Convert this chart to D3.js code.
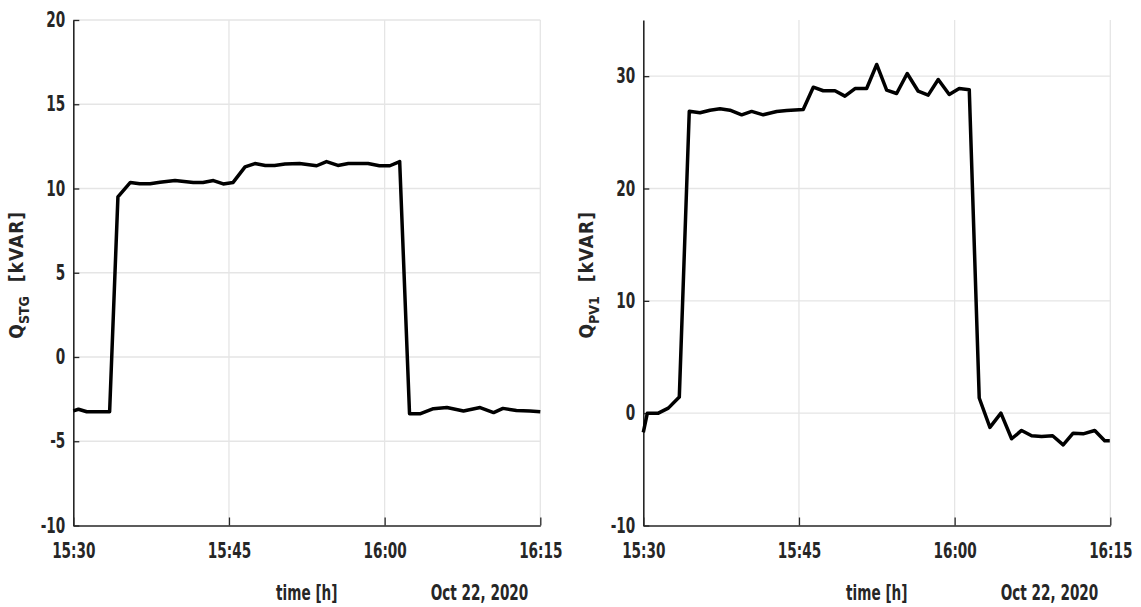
<!DOCTYPE html>
<html><head><meta charset="utf-8">
<script src="https://cdn.jsdelivr.net/npm/d3@7"></script>
<style>
html,body{margin:0;padding:0;background:#fff;}
svg text{font-family:"DejaVu Sans Condensed","Liberation Sans Narrow",sans-serif;font-weight:bold;fill:#262626;}
</style></head>
<body><svg id="chart" width="1141" height="607"></svg>
<script>
// minutes after 15:30 on Oct 22, 2020
const stgMinutes = [0,0.5,1.3,3.5,4.3,5.5,6.4,7.4,8.35,9.8,11.56,12.5,13.5,14.45,15.4,16.55,17.5,18.5,19.4,20.4,21.8,23.45,24.4,25.5,26.5,28.4,29.5,30.5,31.45,32.4,33.4,34.7,36,37.6,39.2,40.5,41.4,42.7,44,45];
const stgValues  = [-3.2,-3.1,-3.25,-3.25,9.5,10.36,10.28,10.28,10.37,10.48,10.35,10.36,10.47,10.27,10.36,11.28,11.48,11.37,11.37,11.45,11.48,11.35,11.6,11.37,11.48,11.48,11.35,11.35,11.6,-3.37,-3.37,-3.07,-3.0,-3.2,-3.0,-3.3,-3.05,-3.17,-3.2,-3.25];
const pvMinutes = [0,0.39,1.45,2.41,3.47,4.43,5.46,6.43,7.39,8.35,9.48,10.44,11.56,12.85,13.82,15.41,16.38,17.34,18.47,19.43,20.4,21.52,22.49,23.45,24.41,25.43,26.49,27.45,28.42,29.48,30.44,31.41,32.37,33.4,34.46,35.49,36.45,37.42,38.38,39.44,40.46,41.42,42.38,43.5,44.46,44.95];
const pvValues  = [-1.7,0,0,0.45,1.43,26.88,26.74,26.97,27.09,26.97,26.56,26.86,26.56,26.86,26.95,27.03,29.02,28.7,28.7,28.22,28.9,28.9,31.04,28.75,28.46,30.24,28.66,28.31,29.7,28.37,28.9,28.8,1.35,-1.27,0,-2.28,-1.54,-2.01,-2.07,-2.01,-2.82,-1.78,-1.84,-1.54,-2.46,-2.46];
const xTickLabels = ["15:30","15:45","16:00","16:15"];
const stgYTicks = [-10,-5,0,5,10,15,20];
const pvYTicks = [-10,0,10,20,30];
const dateLabel = "Oct 22, 2020";
const xTitle = "time [h]";

const t0 = new Date(2020,9,22,15,30,0);
const toDate = m => new Date(t0.getTime() + m*60000);
const svg = d3.select("#chart");
const FS = 21, SQ = 0.72;

function condense(sel){
  sel.each(function(){ const w=this.getComputedTextLength(); this.setAttribute("textLength", w*SQ); this.setAttribute("lengthAdjust","spacingAndGlyphs"); });
}

function panel(opts){
  const {left,right,top,bottom,yDomain,yTicks,minutes,values,qSub} = opts;
  const x = d3.scaleTime().domain([t0, toDate(45)]).range([left,right]);
  const y = d3.scaleLinear().domain(yDomain).range([bottom,top]);
  const g = svg.append("g");
  const xt = xTickLabels.map(s=>{const [h,m]=s.split(":").map(Number);return new Date(2020,9,22,h,m,0);});
  // grid
  g.selectAll(".vg").data(xt.slice(1)).join("line")
    .attr("x1",d=>x(d)).attr("x2",d=>x(d)).attr("y1",top).attr("y2",bottom)
    .attr("stroke","#e5e5e5").attr("stroke-width",1.3);
  g.selectAll(".hg").data(yTicks.filter(v=>v>yDomain[0])).join("line")
    .attr("x1",left).attr("x2",right).attr("y1",d=>y(d)).attr("y2",d=>y(d))
    .attr("stroke","#e5e5e5").attr("stroke-width",1.3);
  // axes
  const xa = d3.axisBottom(x).tickValues(xt).tickFormat(d3.timeFormat("%H:%M")).tickSizeInner(-8).tickSizeOuter(0).tickPadding(18);
  const gx = g.append("g").attr("transform",`translate(0,${bottom})`).call(xa);
  gx.select(".domain").attr("stroke","#262626").attr("stroke-width",1.6);
  gx.selectAll(".tick line").attr("stroke","#262626").attr("stroke-width",1.3);
  gx.selectAll(".tick text").attr("font-size",FS).attr("fill","#262626").call(condense);
  const ya = d3.axisLeft(y).tickValues(yTicks).tickFormat(d=>String(d)).tickSizeInner(-6).tickSizeOuter(0).tickPadding(8);
  const gy = g.append("g").attr("transform",`translate(${left},0)`).call(ya);
  gy.select(".domain").attr("stroke","#262626").attr("stroke-width",1.6);
  gy.selectAll(".tick line").attr("stroke","#262626").attr("stroke-width",1.3);
  gy.selectAll(".tick text").attr("font-size",FS).attr("fill","#262626").call(condense);
  g.selectAll("text").attr("font-family",null);
  // line
  const line = d3.line().x((d,i)=>x(toDate(minutes[i]))).y((d,i)=>y(values[i]));
  g.append("path").datum(values).attr("d",line).attr("fill","none")
    .attr("stroke","#000").attr("stroke-width",3.5).attr("stroke-linejoin","round");
  // titles
  g.append("text").attr("x",(left+right)/2).attr("y",600).attr("text-anchor","middle")
    .attr("font-size",FS).text(xTitle).call(condense);
  g.append("text").attr("x",right-12).attr("y",600).attr("text-anchor","end")
    .attr("font-size",FS).text(dateLabel).call(condense);
  const yl = g.append("text").attr("transform",`translate(${left-50},${(top+bottom)/2+2}) rotate(-90)`)
    .attr("text-anchor","middle").attr("font-size",19);
  yl.append("tspan").text("Q");
  yl.append("tspan").attr("font-size",14).attr("dy",6).text(qSub);
  yl.append("tspan").attr("dy",-6).attr("letter-spacing",1).text("\u00a0\u00a0[kVAR]");
}

panel({left:73.3,right:540.3,top:20,bottom:525.5,yDomain:[-10,20],yTicks:stgYTicks,minutes:stgMinutes,values:stgValues,qSub:"STG"});
panel({left:643.3,right:1110.3,top:20,bottom:525.5,yDomain:[-10,35],yTicks:pvYTicks,minutes:pvMinutes,values:pvValues,qSub:"PV1"});
</script></body></html>
